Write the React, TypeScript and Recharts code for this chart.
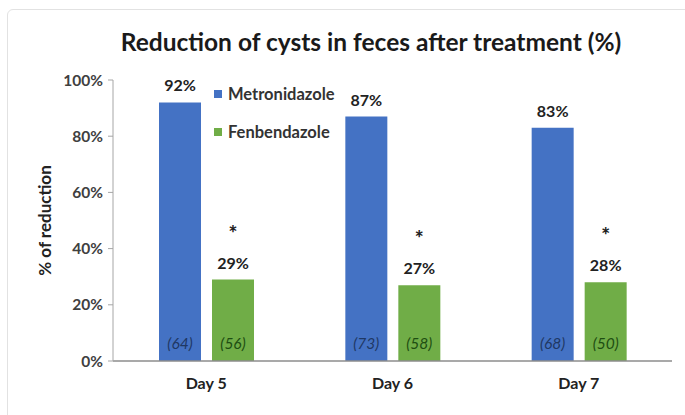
import { BarChart, Bar, XAxis, YAxis, LabelList } from 'recharts'

const days = ['Day 5', 'Day 6', 'Day 7']
const metronidazole = [92, 87, 83]
const fenbendazole = [29, 27, 28]
const metroN = [64, 73, 68]
const fenbN = [56, 58, 50]
const yTicks = [0, 20, 40, 60, 80, 100]

const data = days.map((day, i) => ({
  day,
  metro: metronidazole[i],
  fenb: fenbendazole[i],
  metroN: metroN[i],
  fenbN: fenbN[i],
}))

const FONT = 'Lato, "Open Sans", sans-serif'
const BLUE = '#4472C4'
const GREEN = '#70AD47'

function TopLabel(props: any) {
  const { x, y, width, value, star } = props
  const cx = x + width / 2
  return (
    <g>
      <text x={cx} y={y - 11} textAnchor="middle" fontFamily={FONT} fontSize={16} fontWeight={700} fill="#222">
        {value}%
      </text>
      {star && (
        <text x={cx} y={y - 39} textAnchor="middle" fontFamily={FONT} fontSize={21} fontWeight={900} fill="#222">
          *
        </text>
      )}
    </g>
  )
}

function CountLabel(props: any) {
  const { x, y, width, height, value, color } = props
  return (
    <text
      x={x + width / 2}
      y={y + height - 12.5}
      textAnchor="middle"
      fontFamily={FONT}
      fontSize={15.5}
      fontStyle="italic"
      fill={color}
    >
      ({value})
    </text>
  )
}

export default function App() {
  return (
    <div style={{ position: 'absolute', left: 0, top: 0, width: 685, height: 415, overflow: 'hidden', background: '#fff' }}>
      <div
        style={{
          position: 'absolute',
          left: 7,
          top: 9,
          width: 700,
          height: 430,
          border: '1px solid #e2e2e2',
          borderRadius: 6,
        }}
      />
      <div
        style={{
          position: 'absolute',
          left: 0,
          top: 27,
          width: 742,
          textAlign: 'center',
          fontFamily: FONT,
          fontWeight: 700,
          fontSize: 24.5,
          color: '#1a1a1a',
        }}
      >
        Reduction of cysts in feces after treatment (%)
      </div>
      <div style={{ position: 'absolute', left: 0, top: 0 }}>
        <BarChart
          width={685}
          height={415}
          data={data}
          margin={{ top: 80, right: 13, bottom: 24, left: 53 }}
          barSize={42}
          barGap={11}
        >
          <XAxis
            dataKey="day"
            height={30}
            tickLine={false}
            axisLine={{ stroke: '#8c8c8c', strokeWidth: 1.5 }}
            tick={{ fontFamily: FONT, fontSize: 16, fontWeight: 700, fill: '#222' }}
            dy={9}
          />
          <YAxis
            width={60}
            domain={[0, 100]}
            ticks={yTicks}
            tickFormatter={(v: number) => `${v}%`}
            axisLine={{ stroke: '#a6a6a6' }}
            tickLine={{ stroke: '#a6a6a6' }}
            tickSize={5}
            dx={-3}
            tick={{ fontFamily: FONT, fontSize: 15.5, fontWeight: 700, fill: '#404040' }}
            label={{
              value: '% of reduction',
              angle: -90,
              position: 'insideLeft',
              offset: -8,
              style: { fontFamily: FONT, fontSize: 17, fontWeight: 700, fill: '#222', textAnchor: 'middle' },
            }}
          />
          <Bar dataKey="metro" fill={BLUE} isAnimationActive={false}>
            <LabelList dataKey="metro" content={(p: any) => <TopLabel {...p} />} />
            <LabelList dataKey="metroN" content={(p: any) => <CountLabel {...p} color="#1F3864" />} />
          </Bar>
          <Bar dataKey="fenb" fill={GREEN} isAnimationActive={false}>
            <LabelList dataKey="fenb" content={(p: any) => <TopLabel {...p} star />} />
            <LabelList dataKey="fenbN" content={(p: any) => <CountLabel {...p} color="#1E4D12" />} />
          </Bar>
        </BarChart>
      </div>
      {[
        { name: 'Metronidazole', color: BLUE, top: 84 },
        { name: 'Fenbendazole', color: GREEN, top: 122 },
      ].map((item) => (
        <div
          key={item.name}
          style={{
            position: 'absolute',
            left: 214,
            top: item.top,
            display: 'flex',
            alignItems: 'center',
            fontFamily: FONT,
            fontSize: 16.5,
            fontWeight: 700,
            color: '#333',
          }}
        >
          <span style={{ width: 8, height: 8, background: item.color, marginRight: 6, display: 'inline-block' }} />
          {item.name}
        </div>
      ))}
    </div>
  )
}
